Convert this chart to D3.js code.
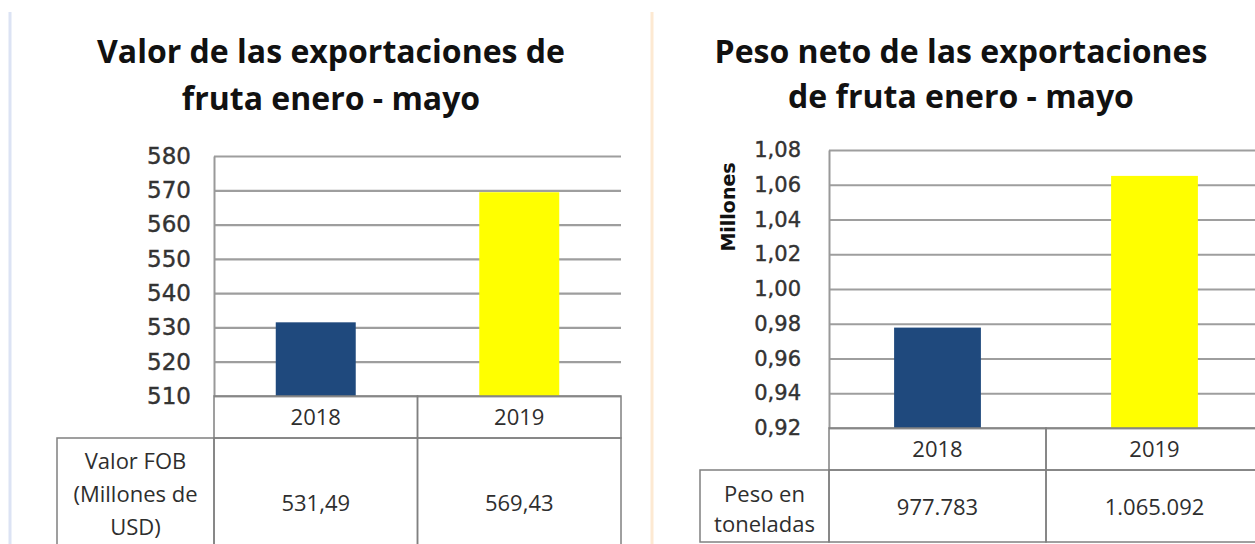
<!DOCTYPE html>
<html>
<head>
<meta charset="utf-8">
<script src="https://cdn.jsdelivr.net/npm/d3@7"></script>
<style>
  body { margin: 0; background: #fff; }
  svg { display: block; }
</style>
</head>
<body>
<div id="dataViz"></div>
<script>
// data
let years = ["2018", "2019"];
let valorFOB = [531.49, 569.43];          // millones de USD
let pesoNeto = [977783, 1065092];         // toneladas
let valorTicks = [510, 520, 530, 540, 550, 560, 570, 580];
let pesoTicks = [0.92, 0.94, 0.96, 0.98, 1.00, 1.02, 1.04, 1.06, 1.08];
let colors = ["#1f497d", "#ffff00"];

var ES = d3.formatLocale({ "decimal": ",", "thousands": ".", "grouping": [3], "currency": ["", ""] });

let svg = d3.select("#dataViz").append("svg")
    .attr("width", 1255)
    .attr("height", 544);

// faint page separators
svg.append("line").attr("x1", 10).attr("x2", 10).attr("y1", 12).attr("y2", 544)
    .attr("stroke", "#dce3f4").attr("stroke-width", 3);
svg.append("line").attr("x1", 652).attr("x2", 652).attr("y1", 12).attr("y2", 544)
    .attr("stroke", "#fde9d2").attr("stroke-width", 3);

function drawPanel(opt) {
    let g = svg.append("g");

    // title
    g.selectAll(".title")
        .data(opt.title)
        .enter().append("text")
        .attr("x", opt.titleX)
        .attr("y", function (d, i) { return opt.titleY[i]; })
        .attr("dy", "0.35em")
        .attr("text-anchor", "middle")
        .style("font-family", "'Open Sans', sans-serif")
        .style("font-weight", "bold")
        .style("font-size", "32px")
        .attr("fill", "#111")
        .text(function (d) { return d; });

    let x = d3.scaleBand()
        .domain(years)
        .range([opt.left, opt.right])
        .paddingInner(opt.pad)
        .paddingOuter(opt.pad / 2);

    let y = d3.scaleLinear()
        .domain(opt.domain)
        .range([opt.bottom, opt.top]);

    // gridlines
    g.append("g")
        .attr("transform", "translate(" + opt.left + ",0)")
        .call(d3.axisLeft(y).tickValues(opt.ticks).tickSize(-(opt.gridEnd - opt.left)).tickFormat(""))
        .call(function (a) {
            a.select(".domain").remove();
            a.selectAll("line").attr("stroke", "#9e9e9e").attr("stroke-width", 2.2);
        });

    // y axis labels
    g.append("g")
        .attr("transform", "translate(" + opt.left + ",0)")
        .call(d3.axisLeft(y).tickValues(opt.ticks).tickSize(0).tickPadding(opt.labelGap).tickFormat(opt.fmt))
        .call(function (a) {
            a.select(".domain").attr("stroke", "#999").attr("stroke-width", 2);
            a.selectAll("text")
                .style("font-family", "'DejaVu Sans', sans-serif")
                .style("font-size", opt.tickSize)
                .attr("fill", "#333")
                .attr("stroke", "#333")
                .attr("stroke-width", 0.4);
        });

    // bars
    g.selectAll(".bar")
        .data(opt.values)
        .enter().append("rect")
        .attr("x", function (d, i) { return x(years[i]); })
        .attr("width", x.bandwidth())
        .attr("y", function (d) { return y(d); })
        .attr("height", function (d) { return opt.bottom - y(d); })
        .attr("fill", function (d, i) { return colors[i]; });

    // data table
    let step = x.step();
    let rowTop = opt.bottom + 42;
    let tbl = g.append("g")
        .attr("fill", "none")
        .attr("stroke", "#808080")
        .attr("stroke-width", 1.5);
    years.forEach(function (yr, i) {
        let cx = opt.left + i * step;
        tbl.append("rect").attr("x", cx).attr("y", opt.bottom).attr("width", step).attr("height", 42);
        tbl.append("rect").attr("x", cx).attr("y", rowTop).attr("width", step).attr("height", opt.rowH);
    });
    tbl.append("rect").attr("x", opt.tableLeft).attr("y", rowTop)
        .attr("width", opt.left - opt.tableLeft).attr("height", opt.rowH);

    let txt = function (sel) {
        sel.attr("text-anchor", "middle")
            .attr("dy", "0.35em")
            .style("font-family", "'Open Sans', sans-serif")
            .style("font-size", "22px")
            .attr("fill", "#2e2e2e");
    };

    g.selectAll(".yr")
        .data(years)
        .enter().append("text")
        .attr("x", function (d) { return x(d) + x.bandwidth() / 2; })
        .attr("y", opt.bottom + 21)
        .call(txt)
        .text(function (d) { return d; });

    g.selectAll(".val")
        .data(opt.tableValues)
        .enter().append("text")
        .attr("x", function (d, i) { return x(years[i]) + x.bandwidth() / 2; })
        .attr("y", opt.valueY)
        .call(txt)
        .text(opt.tableFmt);

    g.selectAll(".lbl")
        .data(opt.rowLabel)
        .enter().append("text")
        .attr("x", (opt.tableLeft + opt.left) / 2)
        .attr("y", function (d, i) { return opt.rowLabelY[i]; })
        .call(txt)
        .text(function (d) { return d; });

    return g;
}

drawPanel({
    title: ["Valor de las exportaciones de", "fruta enero - mayo"],
    titleX: 331, titleY: [52, 99],
    left: 214, right: 621, gridEnd: 621, top: 156, bottom: 396,
    pad: 0.607, domain: [510, 580], ticks: valorTicks,
    fmt: ES.format("d"), tickSize: "23px", labelGap: 23,
    values: valorFOB,
    tableLeft: 57, rowH: 130,
    tableValues: valorFOB, tableFmt: ES.format(",.2f"), valueY: 503,
    rowLabel: ["Valor FOB", "(Millones de", "USD)"], rowLabelY: [461, 494, 527]
});

let right = drawPanel({
    title: ["Peso neto de las exportaciones", "de fruta enero - mayo"],
    titleX: 961, titleY: [52, 97],
    left: 829, right: 1263, gridEnd: 1263, top: 150, bottom: 428,
    pad: 0.6, domain: [0.92, 1.08], ticks: pesoTicks,
    fmt: ES.format(".2f"), tickSize: "21px", labelGap: 28,
    values: pesoNeto.map(function (d) { return d / 1e6; }),
    tableLeft: 700, rowH: 72,
    tableValues: pesoNeto, tableFmt: ES.format(",d"), valueY: 507,
    rowLabel: ["Peso en", "toneladas"], rowLabelY: [494, 524]
});

// axis unit label
right.append("text")
    .attr("transform", "translate(728,207) rotate(-90)")
    .attr("text-anchor", "middle")
    .attr("dy", "0.35em")
    .style("font-family", "'DejaVu Sans', sans-serif")
    .style("font-weight", "bold")
    .style("font-size", "19px")
    .attr("fill", "#111")
    .text("Millones");
</script>
</body>
</html>
